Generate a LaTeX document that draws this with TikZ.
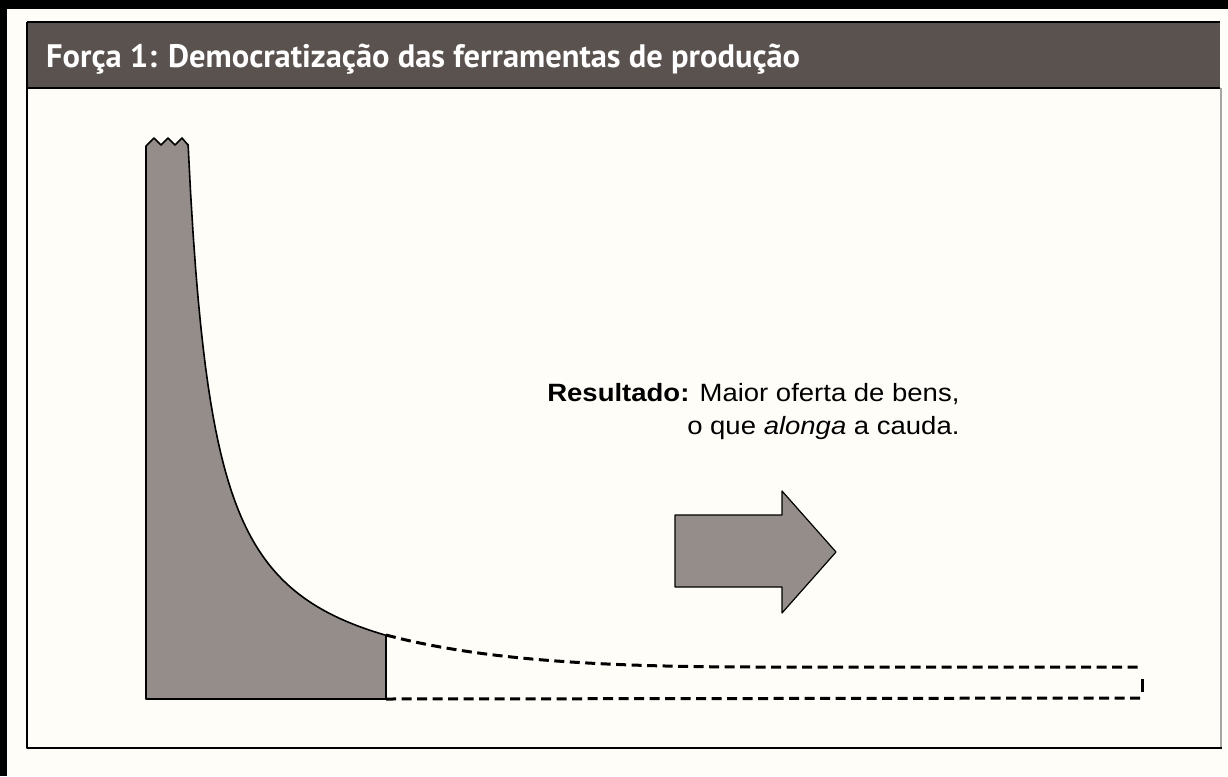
\documentclass[tikz,border=0pt]{standalone}
\usepackage{fontspec}
\setmainfont{Liberation Sans}
\newfontfamily\titlefont{PT Sans}
\newfontfamily\capfont{Liberation Sans}[FakeStretch=1.1]
\usetikzlibrary{positioning}
\definecolor{bandgray}{RGB}{90,82,78}
\definecolor{tailgray}{RGB}{148,141,138}
\definecolor{paper}{RGB}{254,253,247}

\begin{document}
\begin{tikzpicture}
[x=1pt,y=-1pt,line join=round,
                    tail/.style={fill=tailgray,draw=black,line width=1.6pt},
                    longtail/.style={draw=black,line width=3pt,dash pattern=on 10pt off 5.5pt},
                    frame/.style={draw=black,line width=1.3pt},
                    caption/.style={anchor=base east,font=\capfont\fontsize{25}{28}\selectfont}]

\useasboundingbox (0,0) rectangle (1228,776);
\fill[paper] (0,0) rectangle (1228,776);
\fill[black] (0,0) rectangle (1228,9);
\fill[black] (0,0) rectangle (7,776);

% panel and title band
\fill[bandgray] (27,22) rectangle (1220,88);
\draw[frame] (27,22) -- (1220,22);
\draw[frame] (27,88) -- (1220,88);
\draw[frame] (27,22) -- (27,748) -- (1222,748);
\draw[draw=black!35,line width=1.3pt] (1221,88) -- (1221,747);
\node[anchor=base west,text=white,inner sep=0pt,
      font=\titlefont\bfseries\fontsize{32.5}{34}\selectfont] (title) at (46,67)
      {Força 1: Democratização das ferramentas de produção};

% the head of the curve
\coordinate (tailend) at (386,635);
\coordinate (tailfoot) at (386,699);
\coordinate (farend) at (1142,667);
\coordinate (farfoot) at (1142,698);

\draw[tail] (146,699) -- (146,146) -- (154,138) -- (161,145) -- (168,138)
	-- (175,145) -- (182,138) -- (188,145)
	-- plot[domain=188.1:386,samples=80,variable=\t] ({\t},{700-14500/(\t-162)})
	-- (tailfoot) -- cycle;

% the longer tail
\draw[longtail] (tailend) .. controls (480,660) and (600,667) .. (760,667) -- (farend);
\draw[longtail] (tailfoot) -- (farfoot);
\draw[longtail,dash pattern=on 0pt off 12pt on 13pt off 20pt] (farend) -- (farfoot);

% arrow
\draw[tail,line width=1.2pt] (675,515) -- (782,515) -- (782,491) -- (836,552)
	-- (782,613) -- (782,587) -- (675,587) -- cycle;

\node[caption] (res1) at (963,401) {\textbf{Resultado:} Maior oferta de bens,};
\node[caption] (res2) at (963,434) {o que \textit{alonga} a cauda.};
\end{tikzpicture}
\end{document}
